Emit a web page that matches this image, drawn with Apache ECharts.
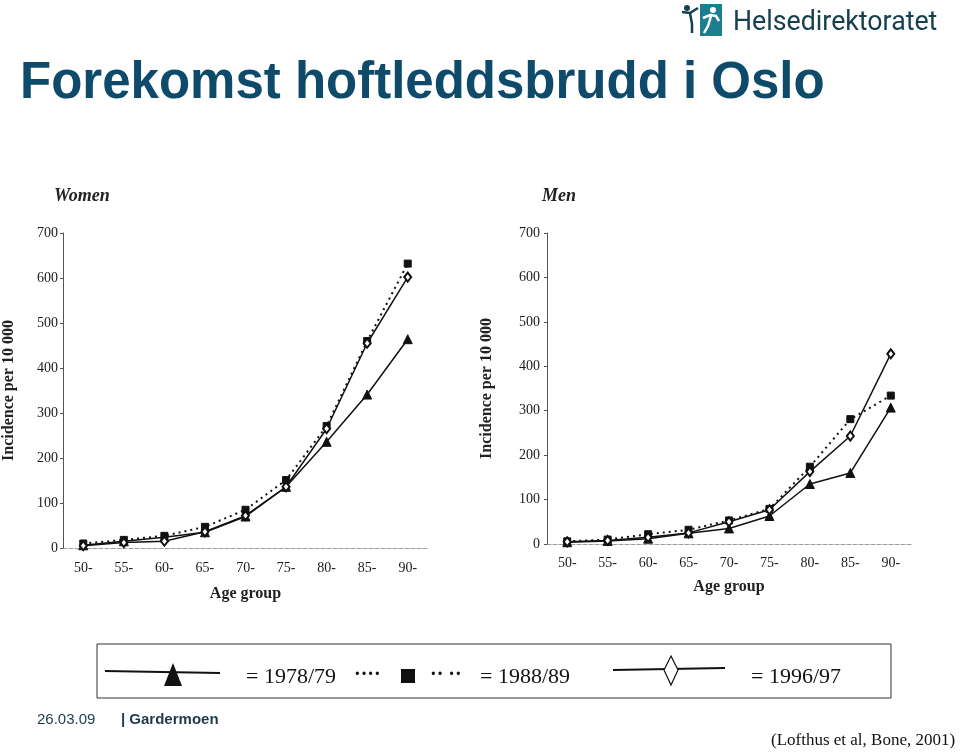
<!DOCTYPE html>
<html>
<head>
<meta charset="utf-8">
<script src="https://cdn.jsdelivr.net/npm/echarts@6/dist/echarts.min.js"></script>
<style>
  html, body { margin: 0; padding: 0; background: #fff; }
  #chart { width: 960px; height: 753px; }
</style>
</head>
<body>
<div id="chart"></div>
<script>
const ageGroups = ['50-', '55-', '60-', '65-', '70-', '75-', '80-', '85-', '90-'];
const seriesNames = ['1978/79', '1988/89', '1996/97'];

const women1978 = [6, 15, 24, 35, 70, 136, 236, 341, 464];
const women1988 = [10, 18, 27, 47, 85, 151, 271, 460, 632];
const women1996 = [5, 12, 15, 36, 72, 136, 265, 455, 602];

const men1978 = [4, 7, 12, 24, 35, 63, 135, 160, 307];
const men1988 = [6, 10, 22, 32, 53, 79, 174, 281, 334];
const men1996 = [5, 8, 15, 25, 50, 77, 163, 243, 428];

const serif = '"Liberation Serif", "Times New Roman", serif';
const sans = '"Liberation Sans", Arial, sans-serif';
const ink = '#111';

function xAxis(gridIndex, labelMargin, nameGap) {
  return {
    type: 'category', gridIndex, data: ageGroups, boundaryGap: true,
    axisLine: { lineStyle: { color: '#9a9a9a', type: 'dashed', width: 1 } },
    axisTick: { show: false },
    axisLabel: { color: '#1a1a1a', fontFamily: serif, fontSize: 14, margin: labelMargin },
    name: 'Age group', nameLocation: 'middle', nameGap,
    nameTextStyle: { color: '#222', fontFamily: serif, fontSize: 16, fontWeight: 'bold' }
  };
}
function yAxis(gridIndex, labelMargin, nameGap) {
  return {
    type: 'value', gridIndex, min: 0, max: 700, interval: 100,
    axisLine: { show: true, lineStyle: { color: '#555', width: 1 } },
    axisTick: { show: true, length: 3, lineStyle: { color: '#555' } },
    splitLine: { show: false },
    axisLabel: { color: '#1a1a1a', fontFamily: serif, fontSize: 14, margin: labelMargin },
    name: 'Incidence per 10 000', nameLocation: 'middle', nameGap, nameRotate: 90,
    nameTextStyle: { color: '#222', fontFamily: serif, fontSize: 16, fontWeight: 'bold' }
  };
}
function mkSeries(name, data, idx, kind) {
  const base = {
    name, type: 'line', data, xAxisIndex: idx, yAxisIndex: idx,
    animation: false, silent: true, showAllSymbol: true,
    lineStyle: { color: ink, width: 1.5 },
    itemStyle: { color: ink, borderColor: ink }
  };
  if (kind === 'tri') {
    base.symbol = 'triangle'; base.symbolSize = 9; base.z = 3;
  } else if (kind === 'sq') {
    base.symbol = 'rect'; base.symbolSize = 7; base.z = 4;
    base.lineStyle = { color: ink, width: 2, type: [2, 4] };
  } else {
    base.symbol = 'emptyDiamond'; base.symbolSize = [7, 9]; base.z = 5;
    base.itemStyle = { color: ink, borderColor: ink, borderWidth: 1.2 };
  }
  return base;
}

const chart = echarts.init(document.getElementById('chart'), null, { renderer: 'canvas' });

const legendY = 672;
const option = {
  backgroundColor: '#fff',
  animation: false,
  grid: [
    { left: 62, top: 233, width: 366, height: 315 },
    { left: 547, top: 233, width: 364, height: 311 }
  ],
  xAxis: [xAxis(0, 13, 38), xAxis(1, 12, 35)],
  yAxis: [yAxis(0, 5, 46), yAxis(1, 7, 52)],
  series: [
    mkSeries(seriesNames[0], women1978, 0, 'tri'),
    mkSeries(seriesNames[1], women1988, 0, 'sq'),
    mkSeries(seriesNames[2], women1996, 0, 'dia'),
    mkSeries(seriesNames[0], men1978, 1, 'tri'),
    mkSeries(seriesNames[1], men1988, 1, 'sq'),
    mkSeries(seriesNames[2], men1996, 1, 'dia')
  ],
  graphic: [
    // Title
    { type: 'text', x: 20, y: 84, style: { text: 'Forekomst hoftleddsbrudd i Oslo', font: 'bold 51px ' + sans, fill: '#0e4a6a', verticalAlign: 'middle' } },
    // Logo
    { type: 'rect', shape: { x: 700, y: 4, width: 22, height: 32 }, style: { fill: '#1b7f90' } },
    { type: 'circle', shape: { cx: 713, cy: 10, r: 3 }, style: { fill: '#fff' } },
    { type: 'polyline', shape: { points: [[703, 18], [710, 15], [716, 16], [719, 21]] }, style: { stroke: '#fff', lineWidth: 2.5, fill: null } },
    { type: 'polyline', shape: { points: [[711, 16], [708, 26], [704, 33]] }, style: { stroke: '#fff', lineWidth: 2.5, fill: null } },
    { type: 'circle', shape: { cx: 687, cy: 8, r: 3 }, style: { fill: '#16404f' } },
    { type: 'polyline', shape: { points: [[682, 12], [690, 13], [698, 8]] }, style: { stroke: '#16404f', lineWidth: 2.5, fill: null } },
    { type: 'polyline', shape: { points: [[690, 13], [692, 24], [692, 33]] }, style: { stroke: '#16404f', lineWidth: 2.5, fill: null } },
    { type: 'text', x: 733, y: 23, scaleX: 0.955, style: { text: 'Helsedirektoratet', font: '28px Roboto, ' + sans, fill: '#16404f', verticalAlign: 'middle' } },
    // Panel titles
    { type: 'text', x: 54, y: 196, style: { text: 'Women', font: 'italic bold 18px ' + serif, fill: '#222', verticalAlign: 'middle' } },
    { type: 'text', x: 542, y: 196, style: { text: 'Men', font: 'italic bold 18px ' + serif, fill: '#222', verticalAlign: 'middle' } },
    // Legend box
    { type: 'rect', shape: { x: 97, y: 644, width: 794, height: 54 }, style: { fill: 'none', stroke: '#333', lineWidth: 1 } },
    { type: 'line', shape: { x1: 105, y1: legendY - 1, x2: 220, y2: legendY + 1 }, style: { stroke: ink, lineWidth: 2 } },
    { type: 'polygon', shape: { points: [[173, 663], [164, 686], [182, 686]] }, style: { fill: ink } },
    { type: 'text', x: 246, y: 677, style: { text: '= 1978/79', font: '22px ' + serif, fill: ink, verticalAlign: 'middle' } },
    { type: 'text', x: 354, y: 675, style: { text: '····', font: 'bold 20px ' + serif, fill: ink, verticalAlign: 'middle' } },
    { type: 'rect', shape: { x: 401, y: 669, width: 14, height: 14 }, style: { fill: ink } },
    { type: 'text', x: 430, y: 675, style: { text: '·· ··', font: 'bold 20px ' + serif, fill: ink, verticalAlign: 'middle' } },
    { type: 'text', x: 480, y: 677, style: { text: '= 1988/89', font: '22px ' + serif, fill: ink, verticalAlign: 'middle' } },
    { type: 'line', shape: { x1: 613, y1: 670, x2: 725, y2: 668 }, style: { stroke: ink, lineWidth: 2 } },
    { type: 'polygon', shape: { points: [[671, 656], [678, 670], [671, 685], [664, 670]] }, style: { fill: '#fff', stroke: ink, lineWidth: 1.2 } },
    { type: 'text', x: 751, y: 677, style: { text: '= 1996/97', font: '22px ' + serif, fill: ink, verticalAlign: 'middle' } },
    // Footer
    { type: 'text', x: 37, y: 720, style: { text: '26.03.09', font: '15px ' + sans, fill: '#1c3a4a', verticalAlign: 'middle' } },
    { type: 'text', x: 121, y: 720, style: { text: '| Gardermoen', font: 'bold 15px ' + sans, fill: '#1c3a4a', verticalAlign: 'middle' } },
    { type: 'text', x: 771, y: 741, style: { text: '(Lofthus et al, Bone, 2001)', font: '17px ' + serif, fill: ink, verticalAlign: 'middle' } }
  ]
};
chart.setOption(option);
</script>
</body>
</html>
